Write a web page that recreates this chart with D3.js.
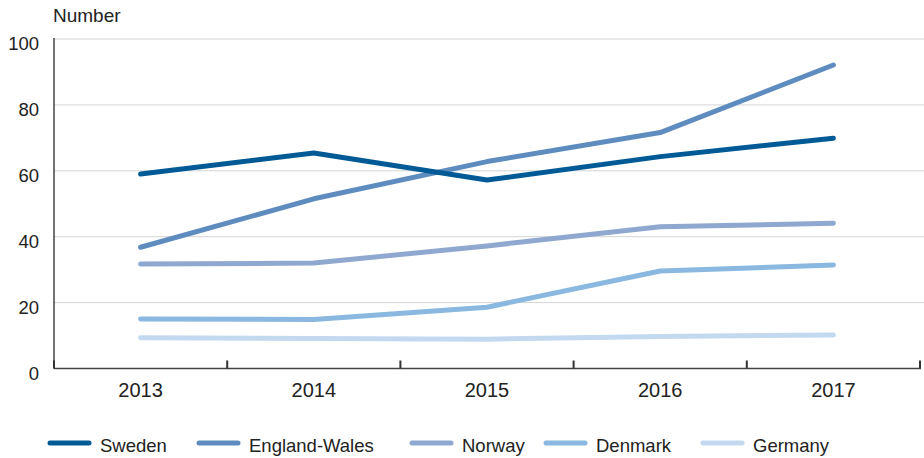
<!DOCTYPE html>
<html>
<head>
<meta charset="utf-8">
<script src="https://cdn.jsdelivr.net/npm/d3@7"></script>
<style>
  html, body { margin: 0; padding: 0; background: #fff; }
  svg { display: block; font-family: "Liberation Sans", Arial, Helvetica, sans-serif; }
</style>
</head>
<body>
<svg id="chart" width="924" height="458"></svg>
<script>
const years = ["2013", "2014", "2015", "2016", "2017"];
const seriesNames = ["Sweden", "England-Wales", "Norway", "Denmark", "Germany"];
const sweden = [59.0, 65.4, 57.2, 64.3, 69.9];
const englandWales = [36.8, 51.5, 62.8, 71.6, 92.1];
const norway = [31.7, 32.0, 37.2, 43.0, 44.1];
const denmark = [15.0, 14.9, 18.6, 29.6, 31.4];
const germany = [9.3, 9.1, 8.9, 9.7, 10.2];
const yTicks = [0, 20, 40, 60, 80, 100];
const colors = ["#005a96", "#5f8cbf", "#8fa8cf", "#8ab8e0", "#c3d9f0"];

const seriesValues = [sweden, englandWales, norway, denmark, germany];

(function () {
const svg = d3.select("#chart");
const mLeft = 54, mRight = 920, mTop = 39, mBottom = 368.5;

const x = d3.scaleBand().domain(years).range([mLeft, mRight]).paddingInner(0).paddingOuter(0);
const y = d3.scaleLinear().domain([0, 100]).range([mBottom, mTop]);

// gridlines
svg.append("g").selectAll("line")
  .data(yTicks.filter(d => d > 0))
  .join("line")
  .attr("x1", mLeft).attr("x2", 924)
  .attr("y1", d => y(d)).attr("y2", d => y(d))
  .attr("stroke", "#d4d4d4").attr("stroke-width", 1);

// y labels
svg.append("g").selectAll("text")
  .data(yTicks)
  .join("text")
  .attr("x", 39).attr("y", d => y(d) + 11)
  .attr("text-anchor", "end")
  .attr("font-size", 18.5)
  .attr("fill", "#222")
  .text(d => d);

svg.append("text")
  .attr("x", 53).attr("y", 22)
  .attr("font-size", 19)
  .attr("fill", "#222")
  .text("Number");

// y axis line
svg.append("line")
  .attr("x1", mLeft).attr("x2", mLeft)
  .attr("y1", mTop - 1).attr("y2", mBottom)
  .attr("stroke", "#444").attr("stroke-width", 1.5);

// x axis line
svg.append("line")
  .attr("x1", mLeft).attr("x2", mRight + 1)
  .attr("y1", mBottom).attr("y2", mBottom)
  .attr("stroke", "#444").attr("stroke-width", 1.5);

// x ticks at band boundaries
const boundaries = years.map(d => x(d)).concat([x(years[years.length - 1]) + x.bandwidth()]);
svg.append("g").selectAll("line")
  .data(boundaries)
  .join("line")
  .attr("x1", d => d).attr("x2", d => d)
  .attr("y1", mBottom).attr("y2", mBottom - 8)
  .attr("stroke", "#333").attr("stroke-width", 2);

// x labels
svg.append("g").selectAll("text")
  .data(years)
  .join("text")
  .attr("x", d => x(d) + x.bandwidth() / 2)
  .attr("y", 397)
  .attr("text-anchor", "middle")
  .attr("font-size", 20)
  .attr("fill", "#222")
  .text(d => d);

// lines (draw in reverse so darker on top)
const line = d3.line()
  .x((d, i) => x(years[i]) + x.bandwidth() / 2)
  .y(d => y(d));

const order = [4, 3, 2, 1, 0];
svg.append("g").selectAll("path")
  .data(order)
  .join("path")
  .attr("d", i => line(seriesValues[i]))
  .attr("fill", "none")
  .attr("stroke", i => colors[i])
  .attr("stroke-width", 5)
  .attr("stroke-linecap", "round")
  .attr("stroke-linejoin", "round");

// legend
const legendX = [50, 199, 412, 546, 703];
const lg = svg.append("g").selectAll("g")
  .data(seriesNames)
  .join("g")
  .attr("transform", (d, i) => `translate(${legendX[i]},443)`);
lg.append("line")
  .attr("x1", 0).attr("x2", 39)
  .attr("y1", 0).attr("y2", 0)
  .attr("stroke", (d, i) => colors[i])
  .attr("stroke-width", 5)
  .attr("stroke-linecap", "round");
lg.append("text")
  .attr("x", 50).attr("y", 9)
  .attr("font-size", 18.5)
  .attr("fill", "#222")
  .text(d => d);
})();
</script>
</body>
</html>
